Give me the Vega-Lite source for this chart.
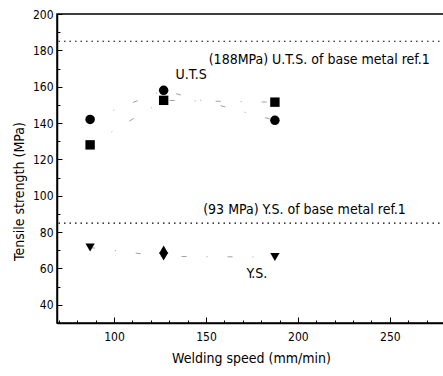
{
  "$schema": "https://vega.github.io/schema/vega-lite/v6.json",
  "autosize": "none",
  "width": 388,
  "height": 309,
  "padding": {"left": 57, "top": 14, "right": 0, "bottom": 53},
  "background": "white",
  "config": {
    "view": {"stroke": "black", "strokeWidth": 1.5},
    "font": "DejaVu Sans Condensed, Liberation Sans, sans-serif",
    "axis": {
      "domainColor": "black", "tickColor": "black", "labelColor": "black", "titleColor": "black",
      "grid": false, "labelFontSize": 12, "labelFontWeight": "normal", "titleFontWeight": "normal", "titleFontSize": 14,
      "labelFont": "DejaVu Sans Condensed, Liberation Sans, sans-serif",
      "titleFont": "DejaVu Sans Condensed, Liberation Sans, sans-serif",
      "labelOverlap": false
    }
  },
  "datasets": {
    "pts": [
      {"series": "UTS-a", "speed": 87, "value": 142},
      {"series": "UTS-a", "speed": 127, "value": 158},
      {"series": "UTS-a", "speed": 187.5, "value": 141.5},
      {"series": "UTS-b", "speed": 87, "value": 128},
      {"series": "UTS-b", "speed": 127, "value": 152.5},
      {"series": "UTS-b", "speed": 187.5, "value": 151.5},
      {"series": "YS-a", "speed": 87, "value": 71.5},
      {"series": "YS-a", "speed": 127, "value": 66.6},
      {"series": "YS-a", "speed": 187.5, "value": 66.3},
      {"series": "YS-b", "speed": 127, "value": 70.5}
    ],
    "refs": [
      {"value": 185},
      {"value": 85}
    ],
    "labels": [
      {"text": "(188MPa) U.T.S. of base metal ref.1", "speed": 151.5, "value": 174.5, "bold": false},
      {"text": "(93 MPa) Y.S. of base metal ref.1", "speed": 148.5, "value": 92.3, "bold": false},
      {"text": "U.T.S", "speed": 133.5, "value": 166.5, "bold": true},
      {"text": "Y.S.", "speed": 172, "value": 57, "bold": true}
    ]
  },
  "layer": [
    {
      "data": {"name": "refs"},
      "mark": {"type": "rule", "color": "black", "strokeWidth": 1.2, "strokeDash": [1.5, 4]},
      "encoding": {
        "y": {"field": "value", "type": "quantitative", "scale": {"domain": [30, 200], "nice": false, "zero": false}}
      }
    },
    {
      "data": {"name": "pts"},
      "mark": {"type": "line", "color": "#888", "strokeWidth": 0.8, "strokeDash": [5, 20, 1, 20]},
      "encoding": {
        "x": {"field": "speed", "type": "quantitative"},
        "y": {"field": "value", "type": "quantitative"},
        "detail": {"field": "series"}
      }
    },
    {
      "data": {"name": "pts"},
      "mark": {"type": "point", "filled": true, "opacity": 1, "color": "black"},
      "encoding": {
        "x": {
          "field": "speed", "type": "quantitative",
          "scale": {"domain": [69, 280], "nice": false, "zero": false},
          "axis": {
            "title": "Welding speed (mm/min)",
            "values": [70, 80, 90, 100, 110, 120, 130, 140, 150, 160, 170, 180, 190, 200, 210, 220, 230, 240, 250, 260, 270, 280],
            "tickCount": 100,
            "labelExpr": "datum.value % 50 === 0 ? datum.label : ''",
            "labelOverlap": false,
            "tickSize": -6,
            "tickDash": {"condition": {"test": "datum.value % 50 === 0", "value": []}, "value": [3, 10]},
            "labelPadding": 14,
            "titlePadding": 9,
            "domainWidth": 1.5
          }
        },
        "y": {
          "field": "value", "type": "quantitative",
          "axis": {
            "title": "Tensile strength (MPa)",
            "values": [30, 40, 50, 60, 70, 80, 90, 100, 110, 120, 130, 140, 150, 160, 170, 180, 190, 200],
            "tickCount": 100,
            "labelExpr": "datum.value % 20 === 0 ? datum.label : ''",
            "labelOverlap": false,
            "tickSize": -5,
            "tickDash": {"condition": {"test": "datum.value % 20 === 0", "value": []}, "value": [3, 10]},
            "labelPadding": 9,
            "titlePadding": 6,
            "titleY": 177,
            "domainWidth": 1.5
          }
        },
        "shape": {
          "field": "series", "type": "nominal", "legend": null,
          "scale": {"domain": ["UTS-a", "UTS-b", "YS-a", "YS-b"], "range": ["circle", "square", "triangle-down", "triangle-up"]}
        },
        "size": {
          "field": "series", "type": "nominal", "legend": null,
          "scale": {"domain": ["UTS-a", "UTS-b", "YS-a", "YS-b"], "range": [90, 85, 220, 170]}
        }
      }
    },
    {
      "data": {"name": "labels"},
      "mark": {"type": "text", "align": "left", "baseline": "middle", "fontSize": 14, "color": "black"},
      "encoding": {
        "x": {"field": "speed", "type": "quantitative"},
        "y": {"field": "value", "type": "quantitative"},
        "text": {"field": "text"},
        "fontWeight": {"condition": {"test": "datum.bold", "value": "bold"}, "value": "normal"}
      }
    }
  ]
}
